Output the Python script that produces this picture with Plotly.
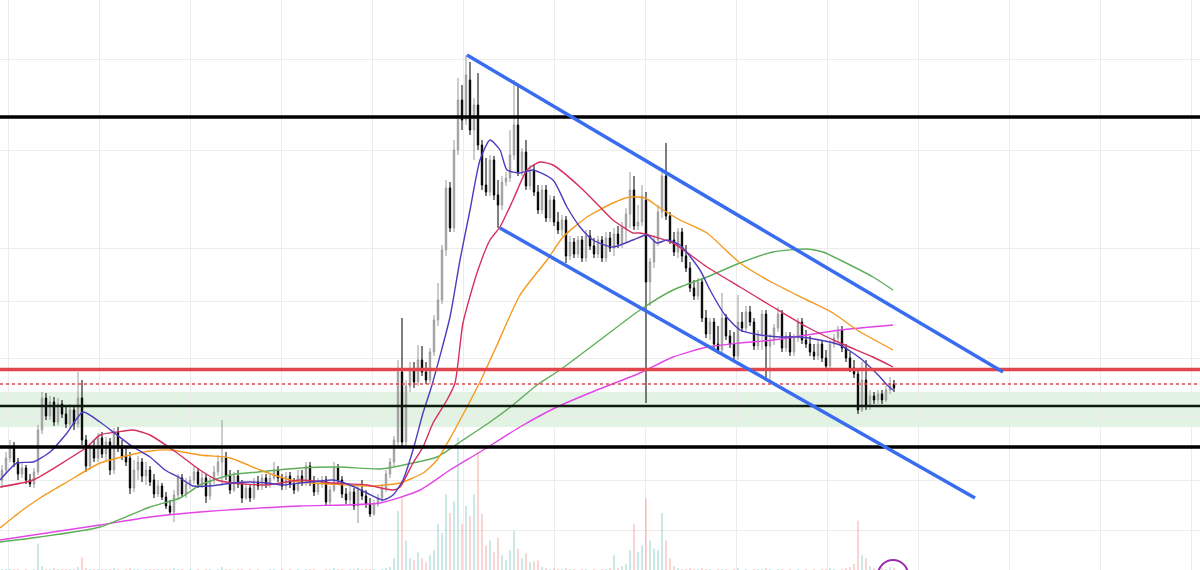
import plotly.graph_objects as go

# ---------------- candle data (one entry per candle) ----------------
opens = [90,100,112,124,108,96,102,90,86,98,
         140,172,154,168,148,166,156,146,160,146,
         172,130,104,122,112,132,116,128,100,138,
         122,114,112,82,100,108,94,100,90,76,
         84,73,64,58,75,92,76,86,90,98,
         86,92,74,90,98,108,112,94,80,94,
         86,72,82,72,88,84,92,86,92,100,
         92,84,94,86,80,94,88,104,88,78,
         86,90,68,80,102,90,76,70,78,64,
         80,74,66,56,66,72,82,96,108,128,
         198,128,184,200,188,210,198,190,218,250,
         270,320,382,342,420,470,450,490,440,465,
         425,385,378,410,375,365,388,392,415,445,
         398,418,384,400,378,360,380,352,370,348,
         340,350,314,328,316,330,312,334,324,316,
         330,312,332,322,336,326,342,356,380,344,
         348,370,288,308,330,358,394,354,330,318,
         338,314,302,282,274,288,252,236,248,226,
         220,252,234,226,214,248,242,258,248,224,
         236,256,224,230,242,256,222,234,218,232,
         248,230,226,218,214,226,212,204,226,232,
         240,222,212,202,196,160,190,164,174,170,
         176,170,180,186]

highs = [105,118,130,128,112,107,105,96,102,145,
         178,177,174,173,172,170,165,166,164,198,
         190,135,127,130,137,138,133,132,142,143,
         130,122,118,110,114,112,108,104,96,90,
         87,78,70,80,96,96,92,94,104,102,
         98,96,94,104,115,150,118,100,98,100,
         90,86,85,92,94,96,96,96,108,104,
         96,98,98,92,100,100,108,108,94,92,
         94,94,84,108,106,94,82,84,82,84,
         90,80,72,70,76,86,100,112,134,210,
         252,190,208,208,225,224,208,222,255,287,
         325,390,388,430,492,485,515,508,472,497,
         430,412,415,414,390,394,398,440,490,485,
         422,430,405,405,385,385,385,375,374,358,
         355,354,334,332,334,334,340,340,332,334,
         334,338,338,342,344,348,362,398,394,365,
         385,378,312,335,365,402,427,358,338,342,
         342,325,308,290,292,292,260,252,252,244,
         277,256,240,238,275,258,264,264,252,240,
         260,260,236,246,263,260,238,238,236,252,
         252,240,234,226,230,230,220,230,236,244,
         244,226,218,210,202,208,210,180,178,180,
         180,184,193,190]

lows = [82,96,108,103,90,92,86,83,82,95,
        136,150,150,144,145,152,142,142,140,142,
        125,98,100,108,108,112,110,95,96,118,
        110,104,76,78,90,88,85,84,72,73,
        70,61,55,48,72,73,72,81,86,82,
        82,67,70,86,94,84,90,76,78,82,
        67,70,68,70,80,80,82,82,90,88,
        80,80,82,76,78,84,84,84,74,75,
        82,64,65,78,86,72,66,66,60,47,
        70,62,53,54,63,68,78,92,104,124,
        124,124,178,182,184,194,186,186,214,244,
        266,314,338,338,415,440,445,435,410,420,
        380,374,374,370,342,360,384,388,410,394,
        394,380,380,374,356,356,348,348,344,336,
        334,307,310,312,312,308,308,320,312,312,
        308,308,318,314,322,322,328,342,340,340,
        344,167,264,302,324,352,350,326,314,312,
        308,298,278,270,270,248,232,230,222,216,
        216,230,222,210,210,238,238,244,220,220,
        220,190,190,225,238,218,218,214,214,228,
        226,222,214,210,210,208,200,200,222,228,
        218,208,198,192,156,158,160,160,166,166,
        166,168,176,178]

closes = [100,112,124,108,96,102,90,86,98,140,
          172,154,168,148,166,156,146,160,146,172,
          130,104,122,112,132,116,128,100,138,122,
          114,108,82,100,108,94,100,88,76,84,
          73,64,58,75,92,76,86,90,98,86,
          92,74,90,98,108,112,94,80,94,86,
          72,82,72,88,84,92,86,92,100,92,
          84,94,86,80,94,88,104,88,78,86,
          90,68,80,102,90,76,70,78,64,80,
          74,66,56,66,72,82,96,108,130,198,
          128,184,200,188,210,198,190,218,250,270,
          320,382,342,420,470,450,495,440,465,425,
          385,378,410,375,365,388,392,415,445,398,
          418,384,400,378,360,380,352,370,348,340,
          350,314,328,316,330,312,334,324,316,330,
          312,332,322,336,326,342,356,380,344,348,
          374,288,308,330,358,394,354,330,318,338,
          314,302,282,274,288,252,236,248,226,220,
          252,234,226,214,248,242,258,248,224,236,
          256,224,230,242,256,222,234,218,232,248,
          230,226,218,214,226,212,204,226,232,240,
          222,212,202,196,160,190,164,174,170,176,
          170,180,186,182]

volumes = [1,1,1,1,1,0,1,0,1,27,
           4,1,1,2,1,1,1,1,1,3,
           13,2,1,1,1,1,1,1,2,1,
           0,1,2,1,1,0,1,1,1,1,
           1,1,1,2,1,1,0,1,0,1,
           0,1,1,0,1,3,1,1,0,1,
           1,0,1,0,1,0,0,1,1,0,
           1,0,1,0,1,0,1,1,1,0,
           0,1,1,2,1,1,0,1,1,2,
           1,1,1,1,0,1,2,3,12,60,
           75,30,12,10,18,12,8,15,20,47,
           38,77,58,70,135,47,65,55,77,120,
           57,25,30,18,33,15,10,20,40,22,
           12,17,8,9,10,3,2,1,2,1,
           1,2,1,1,0,1,1,0,1,0,
           1,1,2,15,2,4,6,20,47,18,
           25,73,30,22,20,58,30,12,4,2,
           1,1,2,1,1,2,1,1,0,1,
           1,1,0,1,2,0,1,0,1,1,
           1,2,1,0,1,1,0,1,0,1,
           0,1,0,1,0,1,1,2,1,0,
           1,2,3,6,50,15,12,4,2,1,
           2,1,3,2]

# ---------------- moving averages (candle index, price) ----------------
ma_purple_x = [-0.5,3.75,7.75,12,16.25,20.25,24.5,28.75,32.75,37,40.75,44.5,47.75,52,57.75,62,
               66.25,70.25,74.5,79.5,82.75,87,91.25,95.25,97.75,100.25,102.75,105.25,107.5,112,
               114.5,117,119.5,122,124.5,126.25,129.5,132.75,137.75,141.25,144.5,147.75,152.75,
               157.75,161.25,163.75,166.25,169.5,174.5,177,180.75,184.5,189.5,194.5,199.5,204.5,
               209.5,214.5,217,219.5,221.25,222.75]
ma_purple_y = [90,107,108,118,137,158,148,135,123,113,100,92,84,84,87,88,
               87,85,87,89,90,85,77,70,75,90,120,157,185,253,
               310,360,410,430,420,400,397,400,390,363,343,330,323,
               330,335,327,330,325,300,280,255,240,235,233,233,230,
               225,212,203,193,185,180]

ma_crimson_x = [-0.5,7.75,16.25,21.25,24.5,28.75,32.75,37,42.75,49.5,53.75,57.75,66.25,74.5,
                82.75,91.25,97.75,99.5,102.75,105.25,107.75,111.25,113.25,115.25,118.75,122,
                124.5,127.75,131.25,134.5,137.75,144.5,149.5,152.75,157.75,159.5,167.75,176.25,
                184.5,192.75,201.25,209.5,217.75,222.75]
ma_crimson_y = [83,90,110,123,135,138,140,135,120,100,90,87,85,90,
                87,85,80,83,107,123,147,170,187,247,297,330,
                343,370,400,408,405,383,363,350,337,337,327,303,
                283,263,243,227,213,203]

ma_orange_x = [-0.5,4.5,9.5,16.25,24.5,32,37,42,49.5,57,64.5,69.5,74.5,82,92,99.5,105.25,
               108.75,112.75,116.25,119.5,123.75,129.5,136.25,140.25,146.25,152.75,157,160.75,
               164.5,169.5,176.25,184.5,192.75,201.25,207.75,213.75,222.75]
ma_orange_y = [42,58,72,88,107,115,119,120,115,112,100,93,88,86,84,87,97,
               110,137,163,188,225,275,310,333,353,367,373,372,
               362,350,337,307,287,270,257,240,220]

ma_green_x = [-0.5,9.5,24.5,37,44.5,49.5,57,64,74.5,84.5,94.5,102.75,108.75,115.25,
              122,127.75,133.75,139.5,149.5,159.5,167.75,176.25,184.5,192.75,201.25,
              205.25,209.5,217.75,222.75]
ma_green_y = [28,33,43,63,72,85,95,98,102,103,101,107,113,130,
              148,165,185,200,230,260,280,293,307,318,321,
              318,310,293,280]

ma_magenta_x = [-0.5,24.5,37,49.5,74.5,94.5,104.5,112,119.5,129.5,138.75,148.75,159.5,
                167.75,176.25,184.5,192.75,201.25,209.5,222.75]
ma_magenta_y = [30,45,53,58,64,67,80,100,118,143,163,180,197,
                213,223,227,230,235,240,245]

# ---------------- levels and drawings ----------------
black_levels = [453, 123]
support_level = 164
red_level = 200.5
red_dotted_level = 186
zone_low, zone_high = 143, 178
channel_upper = [(116.25, 515), (250.25, 198)]
channel_lower = [(124.5, 342), (243.25, 72)]
price_grid = [511, 420, 322, 269, 212, 154, 90, 40]

assert len(opens) == len(highs) == len(lows) == len(closes) == len(volumes)
n = len(closes)
idx = list(range(n))

fig = go.Figure()

vol_colors = ['rgba(38,166,154,0.35)' if c >= o else 'rgba(239,83,80,0.35)'
              for o, c in zip(opens, closes)]
fig.add_trace(go.Bar(x=idx, y=volumes, marker=dict(color=vol_colors, line=dict(width=0)),
                     width=0.35, yaxis='y2', hoverinfo='skip'))

fig.add_trace(go.Candlestick(
    x=idx, open=opens, high=highs, low=lows, close=closes,
    increasing=dict(line=dict(color='#9a9a9a', width=1), fillcolor='#bdbdbd'),
    decreasing=dict(line=dict(color='#000000', width=1), fillcolor='#000000'),
    whiskerwidth=0))

for xs, ys, col in [(ma_magenta_x, ma_magenta_y, '#e245e6'),
                    (ma_green_x, ma_green_y, '#5fae5a'),
                    (ma_orange_x, ma_orange_y, '#f59a1f'),
                    (ma_crimson_x, ma_crimson_y, '#d5305c'),
                    (ma_purple_x, ma_purple_y, '#4d3cbd')]:
    fig.add_trace(go.Scatter(x=xs, y=ys, mode='lines',
                             line=dict(color=col, width=1.4, shape='spline', smoothing=0.6),
                             hoverinfo='skip'))

shapes = []
shapes.append(dict(type='rect', xref='paper', x0=0, x1=1, yref='y', y0=zone_low, y1=zone_high,
                   fillcolor='rgba(76,175,80,0.16)', line=dict(width=0), layer='below'))
for lv in black_levels:
    shapes.append(dict(type='line', xref='paper', x0=0, x1=1, yref='y', y0=lv, y1=lv,
                       line=dict(color='#000000', width=3.5)))
shapes.append(dict(type='line', xref='paper', x0=0, x1=1, yref='y', y0=support_level, y1=support_level,
                   line=dict(color='#0d1a0d', width=2.5)))
shapes.append(dict(type='line', xref='paper', x0=0, x1=1, yref='y', y0=red_level, y1=red_level,
                   line=dict(color='#e0474c', width=3.5)))
shapes.append(dict(type='line', xref='paper', x0=0, x1=1, yref='y', y0=red_dotted_level,
                   y1=red_dotted_level, line=dict(color='#e0474c', width=1.5, dash='dot')))
for (xa, ya), (xb, yb) in [channel_upper, channel_lower]:
    shapes.append(dict(type='line', xref='x', yref='y', x0=xa, y0=ya, x1=xb, y1=yb,
                       line=dict(color='#3a6cf0', width=3.5)))
shapes.append(dict(type='circle', xref='paper', yref='paper', x0=0.7317, x1=0.7567,
                   y0=-0.035, y1=0.0175, line=dict(color='#9c27b0', width=2)))

fig.update_layout(
    width=1200, height=570, margin=dict(l=0, r=0, t=0, b=0),
    paper_bgcolor='white', plot_bgcolor='white', showlegend=False,
    shapes=shapes, boxgap=0.5,
    xaxis=dict(range=[-0.5, 299.5], showgrid=True, gridcolor='#ececec', gridwidth=1,
               tick0=1.5, dtick=22.75, showticklabels=False, zeroline=False,
               showline=False, rangeslider=dict(visible=False), ticks=''),
    yaxis=dict(range=[0, 570], tickvals=price_grid, showgrid=True, gridcolor='#ececec',
               showticklabels=False, zeroline=False, showline=False, ticks=''),
    yaxis2=dict(range=[0, 580], overlaying='y', visible=False),
)

fig.write_html("out.html")
